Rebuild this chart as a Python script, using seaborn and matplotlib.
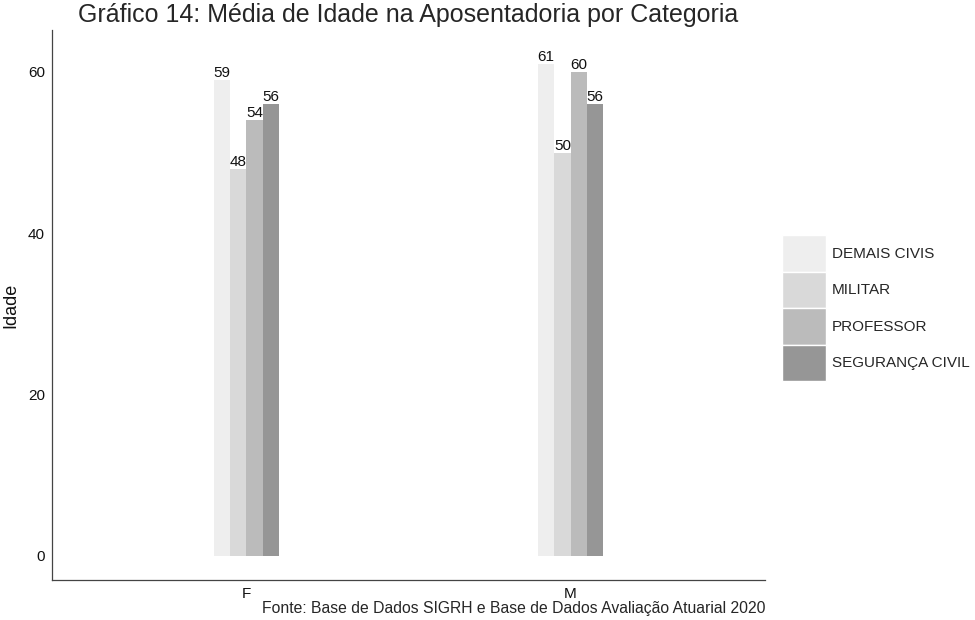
import matplotlib
matplotlib.use('Agg')
import matplotlib.pyplot as plt
import seaborn as sns
import pandas as pd

sexo = ["F", "M"]
categorias = ["DEMAIS CIVIS", "MILITAR", "PROFESSOR", "SEGURANÇA CIVIL"]
idade_f = [59, 48, 54, 56]
idade_m = [61, 50, 60, 56]
cores = ["#EEEEEE", "#D9D9D9", "#BBBBBB", "#969696"]

df = pd.DataFrame({
    "Sexo": [s for s in sexo for _ in categorias],
    "Categoria": categorias * 2,
    "Idade": idade_f + idade_m,
})

sns.set_style("white")
plt.rcParams['font.family'] = ['Liberation Sans', 'DejaVu Sans']

fig = plt.figure(figsize=(9.75, 6.2), dpi=100)
ax = fig.add_axes([52/975, 40/620, 713/975, 550/620])

sns.barplot(data=df, x="Sexo", y="Idade", hue="Categoria", hue_order=categorias,
            palette=cores, width=0.2, saturation=1, ax=ax, errorbar=None, linewidth=0)

for cont in ax.containers:
    ax.bar_label(cont, fmt="%d", fontsize=11, padding=0, color="#111111")

ax.set_xlim(-0.6, 1.6)
ax.set_ylim(-3.0, 65.2)
ax.set_yticks([0, 20, 40, 60])
ax.set_xlabel("")
ax.set_ylabel("Idade", fontsize=13, color="#111111", labelpad=6)
ax.tick_params(axis="both", labelsize=11, colors="#333333", length=3, pad=2, direction="out")
for lbl in ax.get_xticklabels() + ax.get_yticklabels():
    lbl.set_color("#111111")
for side in ["top", "right"]:
    ax.spines[side].set_visible(False)
for side in ["left", "bottom"]:
    ax.spines[side].set_color("#444444")
    ax.spines[side].set_linewidth(0.9)

fig.text(408/975, 1 - 15/620, "Gráfico 14: Média de Idade na Aposentadoria por Categoria",
         ha="center", va="center", fontsize=18)

leg = ax.legend(title=None, loc="center left", bbox_to_anchor=(1.015, 0.494), frameon=False,
                fontsize=11, handlelength=2.9, handleheight=3.3, labelspacing=0.0,
                handletextpad=0.4, borderaxespad=0)
for h in leg.legend_handles:
    h.set_edgecolor("white")
    h.set_linewidth(1)

fig.text(765/975, 1 - 608/620, "Fonte: Base de Dados SIGRH e Base de Dados Avaliação Atuarial 2020",
         ha="right", va="center", fontsize=11.3)

plt.savefig("out.png", dpi=100)
plt.close()
